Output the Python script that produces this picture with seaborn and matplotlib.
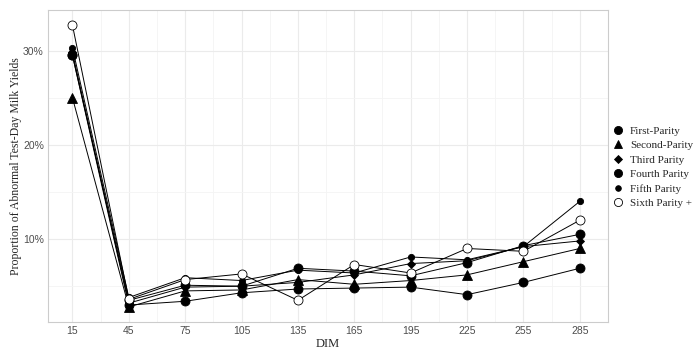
import pandas as pd
import matplotlib
matplotlib.use('Agg')
import matplotlib.pyplot as plt
import seaborn as sns
from matplotlib.lines import Line2D
from matplotlib.ticker import MultipleLocator, FuncFormatter

# DIM and proportions (%)
dim = [15, 45, 75, 105, 135, 165, 195, 225, 255, 285]
first = [29.5, 3.0, 3.4, 4.3, 4.7, 4.8, 4.9, 4.1, 5.4, 6.9]
second = [25.0, 2.8, 4.5, 4.6, 5.7, 5.2, 5.6, 6.2, 7.6, 9.0]
third = [29.8, 3.2, 4.9, 5.0, 5.4, 6.2, 7.4, 7.7, 9.2, 9.8]
fourth = [29.5, 3.5, 5.1, 5.0, 6.9, 6.6, 6.1, 7.5, 9.3, 10.5]
fifth = [30.3, 3.8, 5.9, 5.6, 6.7, 6.4, 8.1, 7.8, 9.2, 14.0]
sixth = [32.7, 3.6, 5.7, 6.3, 3.5, 7.3, 6.4, 9.0, 8.7, 12.0]
labels = ['First-Parity', 'Second-Parity', 'Third Parity', 'Fourth Parity', 'Fifth Parity', 'Sixth Parity +']
series = [first, second, third, fourth, fifth, sixth]

# marker, size, face colour for each parity
styles = [('o', 6.5, 'black'), ('^', 6.5, 'black'), ('D', 4, 'black'),
          ('o', 6.5, 'black'), ('o', 4.5, 'black'), ('o', 6.5, 'white')]

sns.set_style('white')
fig = plt.figure(figsize=(7, 3.52), dpi=100)
ax = fig.add_axes([48 / 700, 30 / 352, 560 / 700, 312 / 352])

for lab, vals, (m, s, fc) in zip(labels, series, styles):
    df = pd.DataFrame({'DIM': dim, 'prop': vals})
    sns.lineplot(data=df, x='DIM', y='prop', ax=ax, color='black', linewidth=0.7,
                 marker=m, markersize=s, markerfacecolor=fc, markeredgecolor='black',
                 markeredgewidth=0.6)

ax.set_xlim(2, 300)
ax.set_ylim(1.2, 34.3)
ax.set_xticks(dim)
ax.xaxis.set_minor_locator(MultipleLocator(30))
ax.set_yticks([10, 20, 30])
ax.yaxis.set_minor_locator(MultipleLocator(5))
ax.yaxis.set_major_formatter(FuncFormatter(lambda v, p: f'{v:.0f}%'))
ax.grid(True, which='major', color='#ebebeb', linewidth=0.8)
ax.grid(True, which='minor', color='#f4f4f4', linewidth=0.6)
ax.set_axisbelow(True)
for sp in ax.spines.values():
    sp.set_color('#cccccc')
    sp.set_linewidth(0.8)
ax.tick_params(axis='both', which='both', length=0, labelsize=7.5, labelcolor='#4d4d4d', pad=3)
for t in ax.get_xticklabels() + ax.get_yticklabels():
    t.set_fontfamily('Liberation Sans')

ax.set_xlabel('DIM', fontfamily='Liberation Serif', fontsize=9, labelpad=1)
ax.set_ylabel('Proportion of Abnormal Test-Day Milk Yields', fontfamily='Liberation Serif',
              fontsize=8.5, labelpad=1)

handles = [Line2D([], [], linestyle='none', marker=m, markersize=s * 0.9, markerfacecolor=fc,
                  markeredgecolor='black', markeredgewidth=0.6, color='black')
           for (m, s, fc) in styles]
fig.legend(handles, labels, loc='center left', bbox_to_anchor=(601 / 700, (352 - 167) / 352),
           frameon=False, prop={'family': 'Liberation Serif', 'size': 8},
           handletextpad=0.5, labelspacing=0.42, handlelength=1.2)

fig.savefig('out.png', dpi=100)
